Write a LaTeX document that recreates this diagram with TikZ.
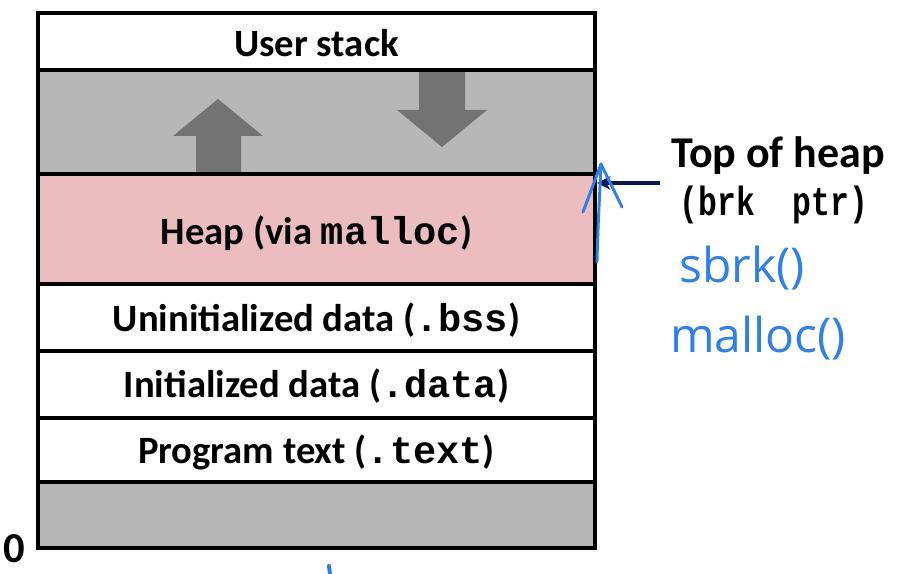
\documentclass[tikz,border=0pt]{standalone}
\usepackage{fontspec}
\setmainfont{Carlito}
\newfontfamily\codefont{Liberation Mono}
\newfontfamily\handfont{Open Sans}
\usetikzlibrary{arrows.meta}
\definecolor{segray}{HTML}{B7B7B7}
\definecolor{heappink}{HTML}{EBBDBE}
\definecolor{arrgray}{HTML}{737373}
\definecolor{navyline}{HTML}{0C1656}
\definecolor{penblue}{HTML}{2F80EA}
\newcommand\cd[1]{{\codefont\bfseries #1}}
\tikzset{
  border/.style={draw=black, line width=2.7pt},
  seglabel/.style={font=\fontsize{29}{34}\selectfont\bfseries, inner sep=0pt, anchor=center},
  sidelabel/.style={font=\fontsize{33}{38}\selectfont\bfseries, inner sep=0pt, anchor=center},
  hand/.style={font=\handfont\fontsize{36}{40}\selectfont, text=penblue, inner sep=0pt, anchor=center},
  pen/.style={draw=penblue, line width=2.2pt, line cap=round, line join=round},
  growarrow/.style={fill=arrgray, draw=none}
}
\begin{document}
\begin{tikzpicture}[x=0.75pt,y=-0.75pt]
\useasboundingbox (0,0) rectangle (908,574);
% fills
\fill[segray] (38,70) rectangle (595,174);
\fill[heappink] (38,174) rectangle (595,284);
\fill[segray] (38,482) rectangle (595,548);
% growth arrows
\path[growarrow] (196,173) -- (196,136) -- (173,136) -- (218,99) -- (263,136) -- (241,136) -- (241,173) -- cycle;
\path[growarrow] (419,72) -- (419,110) -- (397,110) -- (442,147) -- (487,110) -- (465,110) -- (465,72) -- cycle;
% lines
\draw[border] (38,13) rectangle (595,548);
\foreach \yy in {70,174,284,351,418,482} \draw[border] (38,\yy) -- (595,\yy);
% labels
\node[seglabel] (stack) at (316.5,43) {User stack};
\node[seglabel] (heap) at (316.5,233) {Heap (via \cd{malloc})};
\node[seglabel] (bss) at (316.5,320) {Uninitialized data (\cd{.bss})};
\node[seglabel] (data) at (316.5,386) {Initialized data (\cd{.data})};
\node[seglabel] (text) at (316.5,452) {Program text (\cd{.text})};
\node[font=\fontsize{32}{36}\selectfont\bfseries, inner sep=0pt] (zero) at (14,549) {0};
% top of heap
\node[sidelabel] (top) at (778,156) {Top of heap};
\node[font=\fontsize{23.5}{28}\selectfont, inner sep=0pt] (brk) at (774,205) {\scalebox{1}[1.3]{\cd{(brk\ \ ptr)}}};
\coordinate (ptrstart) at (660,183);
\coordinate (heaptop) at (597,183);
\draw[navyline, line width=2.4pt, -{Stealth[length=10pt,width=10pt]}] (ptrstart) -- (heaptop);
% handwriting
\node[hand] (sbrk) at (742,268) {sbrk()};
\node[hand] (mal) at (758,338) {malloc()};
\coordinate (penbot) at (597,262);
\coordinate (pentop) at (601,164);
\draw[pen] (penbot) .. controls (598,220) and (600,190) .. (pentop);
\draw[pen] (pentop) -- (583,212);
\draw[pen] (pentop) -- (622,207);
\coordinate (dotA) at (329,566);
\coordinate (dotB) at (330,574);
\draw[pen, line width=3pt] (dotA) -- (dotB);
\end{tikzpicture}
\end{document}
